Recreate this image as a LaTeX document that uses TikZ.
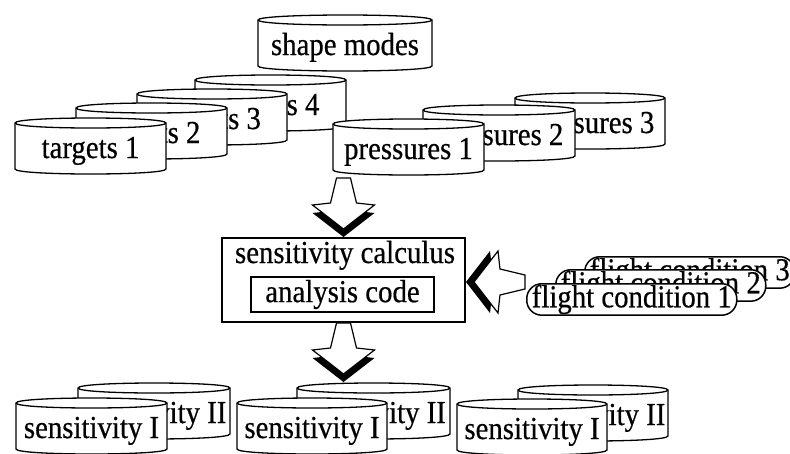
\documentclass[tikz,border=0pt]{standalone}
\usepackage{fontspec}
\setmainfont{Liberation Serif}[FakeStretch=0.9, FakeBold=0.5]
\usetikzlibrary{calc}

\tikzset{
  lbl/.style={font=\fontsize{32}{36}\selectfont, inner sep=0pt},
  drumline/.style={line width=1.3pt, draw=black, fill=white, line join=round},
  framebox/.style={draw, line width=2pt, inner sep=0pt},
  codebox/.style={lbl, draw, line width=1.6pt, fill=white},
  pill/.style={lbl, draw, line width=1.5pt, fill=white, rounded corners=15pt,
    minimum width=210pt, minimum height=30pt, inner sep=1pt, anchor=north west},
  % hollow block arrow with a dark shadow along the edges of its head;
  % the tip of the white arrow sits at the pic origin, pointing along +x
  pics/blockarrow/.style={code={
    \fill[black] (8,0) -- (-16,31) -- (-18,13) -- (-43,7) -- (-43,-7)
      -- (-18,-13) -- (-16,-31) -- cycle;
    \filldraw[fill=white, line width=1.2pt, line join=miter]
      (0,0) -- (-24,31) -- (-26,13) -- (-51,7) -- (-51,-7)
      -- (-26,-13) -- (-24,-31) -- cycle;
  }},
}

% flat data drum: #1 name, #2 left x, #3 top y, #4 width, #5 label
\newcommand\drum[5]{%
  \pgfmathsetmacro\dl{#2}\pgfmathsetmacro\dr{#2+#4}%
  \pgfmathsetmacro\dt{#3+5}\pgfmathsetmacro\db{#3+51}%
  \pgfmathsetmacro\dtu{#3+5-6.667}\pgfmathsetmacro\dtd{#3+5+6.667}%
  \pgfmathsetmacro\dbd{#3+51+6.667}%
  \draw[drumline] (\dl,\dt) -- (\dl,\db) .. controls (\dl,\dbd) and (\dr,\dbd) .. (\dr,\db)
    -- (\dr,\dt) .. controls (\dr,\dtu) and (\dl,\dtu) .. (\dl,\dt) -- cycle;
  \draw[line width=1.3pt] (\dl,\dt) .. controls (\dl,\dtd) and (\dr,\dtd) .. (\dr,\dt);
  \node[lbl, anchor=base] (#1) at ({#2+#4/2}, {#3+40}) {#5};
}

\begin{document}
\begin{tikzpicture}[x=1pt, y=-1pt]
\useasboundingbox (0,0) rectangle (790,453);
\clip (0,0) rectangle (790,453);

% design targets
\drum{tg4}{195}{75}{151}{targets 4}
\drum{tg3}{137}{89}{150}{targets 3}
\drum{tg2}{76}{103}{151}{targets 2}
\drum{tg1}{15}{118}{151}{targets 1}

% shape modes
\drum{modes}{258}{15}{174}{shape modes}

% target pressures
\drum{pr3}{515}{93}{150}{pressures 3}
\drum{pr2}{423}{105}{152}{pressures 2}
\drum{pr1}{333}{119}{151}{pressures 1}

% sensitivity calculus around the analysis code
\node[framebox, minimum width=243pt, minimum height=84pt] (calc) at (343.5,280) {};
\node[lbl, anchor=base] (calctxt) at (345,263) {sensitivity calculus};
\node[codebox, minimum width=183pt, minimum height=35pt] (code) at (342.5,294.5) {analysis code};

% flight conditions
\node[pill] (fc3) at (584,256) {flight condition 3};
\node[pill] (fc2) at (555,269) {flight condition 2};
\node[pill] (fc1) at (526,283) {flight condition 1};

% data flow
\pic[rotate=-90] at ($(calc.north)+(0,-8)$) {blockarrow};
\pic[rotate=180] at ($(calc.east)+(8,2)$) {blockarrow};
\pic[rotate=-90] at ($(calc.south)+(0,51)$) {blockarrow};

% resulting sensitivities
\drum{s2a}{78}{383}{152}{sensitivity II}
\drum{s1a}{16}{398}{151}{sensitivity I}
\drum{s2b}{297}{383}{153}{sensitivity II}
\drum{s1b}{237}{398}{150}{sensitivity I}
\drum{s2c}{518}{385}{150}{sensitivity II}
\drum{s1c}{457}{399}{150}{sensitivity I}
\end{tikzpicture}
\end{document}
